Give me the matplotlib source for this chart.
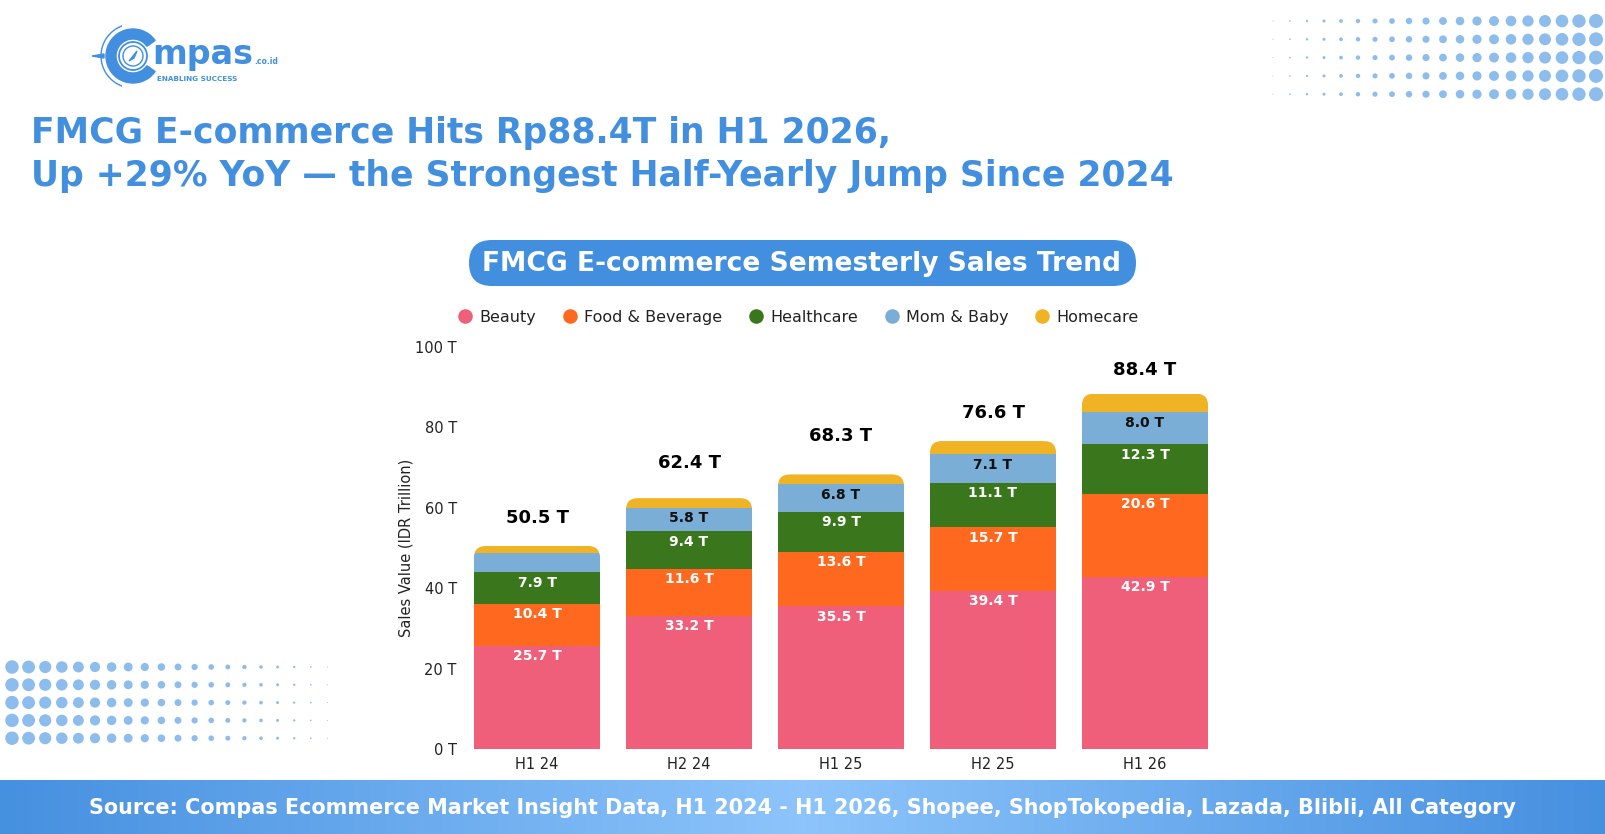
import matplotlib
matplotlib.use("Agg")
import matplotlib.pyplot as plt
import numpy as np
from matplotlib.patches import FancyBboxPatch, Wedge, Circle, Arc, Polygon
from matplotlib.lines import Line2D
from matplotlib.colors import LinearSegmentedColormap

# Chart data (IDR trillion)
periods = ["H1 24", "H2 24", "H1 25", "H2 25", "H1 26"]
beauty = [25.7, 33.2, 35.5, 39.4, 42.9]
food_bev = [10.4, 11.6, 13.6, 15.7, 20.6]
healthcare = [7.9, 9.4, 9.9, 11.1, 12.3]
mom_baby = [4.8, 5.8, 6.8, 7.1, 8.0]
homecare = [1.7, 2.4, 2.5, 3.3, 4.6]
totals = [50.5, 62.4, 68.3, 76.6, 88.4]
categories = ["Beauty", "Food & Beverage", "Healthcare", "Mom & Baby", "Homecare"]
y_ticks = [0, 20, 40, 60, 80, 100]

colors = ["#EF5F7A", "#FF691F", "#3A761C", "#7AAED6", "#F0B323"]
label_colors = ["white", "white", "white", "#111111", None]
BLUE = "#418FDE"
DOT = "#8DBDED"
MIN_LABEL = 5  # segments smaller than this get no label

# gap (px) between top of stack and the total label, as in the source
total_gap = [28, 35, 38, 28, 24]

plt.rcParams["font.family"] = ["DejaVu Sans"]

W, H = 1605, 834
fig = plt.figure(figsize=(W / 100, H / 100), dpi=100)
fig.patch.set_facecolor("white")

# background layer in pixel coordinates
bg = fig.add_axes([0, 0, 1, 1], zorder=0)
bg.set_xlim(0, W)
bg.set_ylim(H, 0)
bg.axis("off")


def fit_width(txt, target):
    r = fig.canvas.get_renderer()
    w = txt.get_window_extent(r).width
    txt.set_fontsize(txt.get_fontsize() * target / w)


# decorative dots
d_top = np.linspace(1, 14, 20)
for row in range(5):
    bg.scatter(1273 + 17 * np.arange(20), np.full(20, 21 + 18.3 * row),
               s=(0.72 * d_top) ** 2, color=DOT, lw=0)
d_bot = np.linspace(13.5, 1, 20)
for row in range(5):
    bg.scatter(12 + 16.6 * np.arange(20), np.full(20, 667 + 17.8 * row),
               s=(0.72 * d_bot) ** 2, color=DOT, lw=0)

# logo
bg.add_patch(Wedge((133, 56), 27, 35, 325, width=10, color=BLUE))
bg.add_patch(Arc((133, 56), 64, 64, theta1=110, theta2=250, color=BLUE, lw=1))
bg.add_patch(Circle((133, 56), 14, fill=False, ec=BLUE, lw=1.3))
bg.add_patch(Circle((133, 56), 10, fill=False, ec=BLUE, lw=1))
bg.add_patch(Polygon([(129, 61), (137, 51), (134, 58)], color=BLUE))
bg.add_patch(Polygon([(92, 56), (104, 54), (104, 58)], color=BLUE))
bg.text(152, 64, "mpas", fontsize=24, fontweight="bold", color=BLUE, va="baseline")
bg.text(254, 64, ".co.id", fontsize=5.5, fontweight="bold", color=BLUE, va="baseline")
bg.text(157, 81, "ENABLING SUCCESS", fontsize=5.2, fontweight="bold", color=BLUE, va="baseline")

# headline
t1 = bg.text(31, 133, "FMCG E-commerce Hits Rp88.4T in H1 2026,", fontsize=22,
             fontweight="heavy", color=BLUE, va="center", ha="left")
t2 = bg.text(31, 176, "Up +29% YoY \u2014 the Strongest Half-Yearly Jump Since 2024", fontsize=22,
             fontweight="heavy", color=BLUE, va="center", ha="left")
fit_width(t2, 1141)
t1.set_fontsize(t2.get_fontsize())

# chart title pill
bg.add_patch(FancyBboxPatch((469, 240), 667, 46, boxstyle="round,pad=0,rounding_size=23",
                            fc=BLUE, ec="none"))
pt = bg.text(802, 264, "FMCG E-commerce Semesterly Sales Trend", fontsize=18,
             fontweight="bold", color="white", ha="center", va="center")
fit_width(pt, 640)

# footer band
grad = np.abs(np.linspace(-1, 1, 512)).reshape(1, -1)
cmap = LinearSegmentedColormap.from_list("band", ["#8DC4FB", "#4690E0"])
bg.imshow(grad, extent=(0, W, H, 780), aspect="auto", cmap=cmap, zorder=1)
bg.set_xlim(0, W)
bg.set_ylim(H, 0)
ft = bg.text(802, 808, "Source: Compas Ecommerce Market Insight Data, H1 2024 - H1 2026, Shopee, "
             "ShopTokopedia, Lazada, Blibli, All Category", fontsize=16, fontweight="bold",
             color="white", ha="center", va="center", zorder=2)
fit_width(ft, 1431)

# legend
handles = [Line2D([], [], marker="o", ls="", markersize=10.5, markerfacecolor=c,
                  markeredgewidth=0) for c in colors]
fig.legend(handles, categories, ncol=5, loc="center", bbox_to_anchor=(798 / W, 1 - 317 / H),
           frameon=False, fontsize=11.5, handlelength=1.0, handletextpad=0.4,
           columnspacing=1.6, labelcolor="#222222")

# stacked bars
ax = fig.add_axes([461 / W, (H - 749) / H, 760 / W, 402 / H], zorder=2)
ax.patch.set_alpha(0)
ax.set_xlim(-0.5, 4.5)
ax.set_ylim(0, 100)
x = np.arange(len(periods))
width = 0.83
series = [beauty, food_bev, healthcare, mom_baby, homecare]
bottom = np.zeros(len(periods))
all_bars = []
for vals, color, lc in zip(series, colors, label_colors):
    bars = ax.bar(x, vals, width, bottom=bottom, color=color, linewidth=0)
    all_bars.append(bars)
    if lc:
        for xi, b, v in zip(x, bottom, vals):
            if v < MIN_LABEL:
                continue
            ax.annotate(f"{v:.1f} T", (xi, b + v), xytext=(0, -7.5), textcoords="offset points",
                        ha="center", va="center", color=lc, fontsize=10, fontweight="bold")
    bottom += np.array(vals)

# round the top corners of each stack
ux = ax.bbox.width / 5
uy = ax.bbox.height / 100
rad = 12
for i in range(len(periods)):
    clip = FancyBboxPatch((x[i] - width / 2, -10), width, bottom[i] + 10,
                          boxstyle=f"round,pad=0,rounding_size={rad / ux}",
                          mutation_aspect=ux / uy, transform=ax.transData,
                          fc="none", ec="none")
    ax.add_patch(clip)
    for bars in all_bars:
        bars[i].set_clip_path(clip)
    ax.annotate(f"{totals[i]:.1f} T", (x[i], bottom[i]), xytext=(0, total_gap[i] * 0.72),
                textcoords="offset points", ha="center", va="center", fontsize=13,
                fontweight="bold", color="black")

for s in ax.spines.values():
    s.set_visible(False)
ax.set_xticks(x)
ax.set_xticklabels(periods)
ax.set_yticks(y_ticks)
ax.set_yticklabels([f"{v} T" for v in y_ticks])
ax.tick_params(length=0, labelsize=10.5, colors="#222222")
ax.tick_params(axis="x", pad=6)
ax.tick_params(axis="y", pad=3)
ax.set_ylabel("Sales Value (IDR Trillion)", fontsize=10.5, color="#222222", labelpad=1.5)

fig.savefig("out.png", dpi=100)
